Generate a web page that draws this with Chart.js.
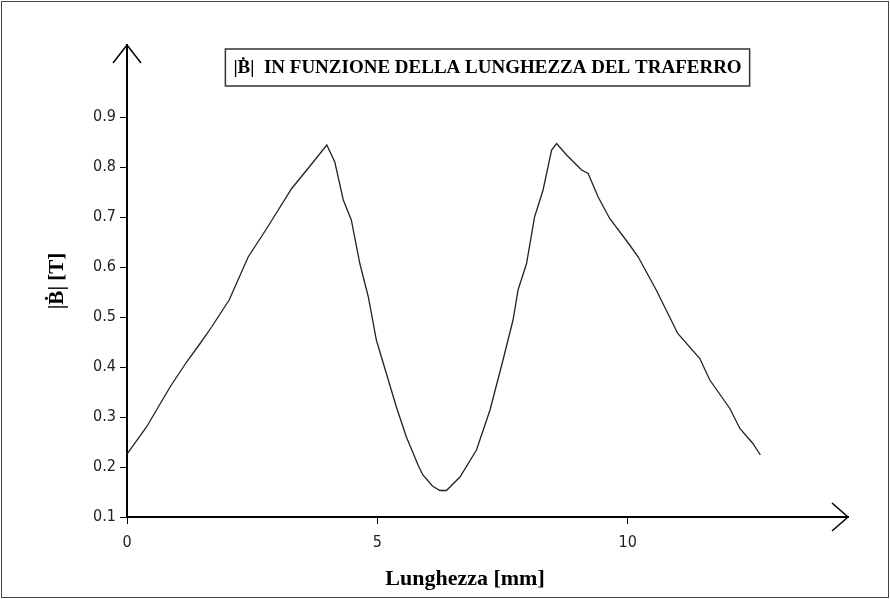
<!DOCTYPE html>
<html>
<head>
<meta charset="utf-8">
<script src="https://cdn.jsdelivr.net/npm/chart.js@4.4.1/dist/chart.umd.min.js"></script>
<style>
  body { margin: 0; background: #fff; }
  canvas { display: block; }
</style>
</head>
<body>
<canvas id="fluxChart" width="890" height="599"></canvas>
<script>
// valori
const lunghezza = [0, 0.39, 0.86, 1.19, 1.46, 1.69, 2.04, 2.42, 2.79, 3.29, 3.72, 3.99,
  4.15, 4.32, 4.48, 4.65, 4.82, 4.98, 5.18, 5.38, 5.58, 5.83, 5.91, 6.1, 6.25, 6.38,
  6.65, 6.98, 7.25, 7.51, 7.71, 7.81, 7.98, 8.14, 8.31, 8.48, 8.58, 8.78, 9.08, 9.21,
  9.41, 9.64, 10.04, 10.21, 10.57, 11.0, 11.44, 11.64, 12.04, 12.24, 12.5, 12.65];
const induzione = [0.226, 0.28, 0.36, 0.41, 0.447, 0.48, 0.534, 0.62, 0.677, 0.757, 0.81, 0.844,
  0.81, 0.734, 0.694, 0.607, 0.54, 0.454, 0.387, 0.32, 0.26, 0.2, 0.184, 0.162, 0.153, 0.153,
  0.18, 0.234, 0.314, 0.414, 0.494, 0.554, 0.607, 0.7, 0.754, 0.834, 0.847, 0.824, 0.794, 0.787,
  0.74, 0.697, 0.644, 0.62, 0.554, 0.467, 0.417, 0.374, 0.317, 0.277, 0.247, 0.224];
const xTicks = [0, 5, 10];
const yTicks = [0.1, 0.2, 0.3, 0.4, 0.5, 0.6, 0.7, 0.8, 0.9];

const titolo = "|Ḃ|  IN FUNZIONE DELLA LUNGHEZZA DEL TRAFERRO";
const titoloX = "Lunghezza [mm]";
const titoloY = "|Ḃ| [T]";

const tickFont = { family: '"Liberation Sans Narrow", "DejaVu Sans Condensed", sans-serif', size: 16 };

// frecce degli assi, riquadro del titolo, cornice esterna
const decorazioni = {
  id: "decorazioni",
  afterDraw(chart) {
    const ctx = chart.ctx;
    const xs = chart.scales.x;
    const ys = chart.scales.y;
    const x0 = xs.getPixelForValue(0);
    const y0 = ys.getPixelForValue(0.1);
    const xEnd = xs.right;
    const yEnd = ys.top;

    ctx.save();
    ctx.strokeStyle = "#000";
    ctx.lineWidth = 1.5;
    ctx.beginPath();
    ctx.moveTo(x0 - 14, yEnd + 18);
    ctx.lineTo(x0, yEnd);
    ctx.lineTo(x0 + 14, yEnd + 18);
    ctx.moveTo(xEnd - 16, y0 - 14);
    ctx.lineTo(xEnd, y0);
    ctx.lineTo(xEnd - 16, y0 + 14);
    ctx.stroke();

    // cornice
    ctx.strokeStyle = "#444";
    ctx.lineWidth = 1;
    ctx.strokeRect(1.5, 1.5, chart.width - 3, chart.height - 3);

    // titolo nel riquadro
    ctx.font = 'bold 19px "Liberation Serif", serif';
    const w = ctx.measureText(titolo).width;
    const cx = (xs.left + xs.right) / 2;
    ctx.strokeStyle = "#333";
    ctx.lineWidth = 1.5;
    ctx.strokeRect(cx - w / 2 - 8, 49, w + 16, 37);
    ctx.fillStyle = "#000";
    ctx.textAlign = "center";
    ctx.textBaseline = "middle";
    ctx.fillText(titolo, cx, 68);

    // titolo asse x
    ctx.font = 'bold 22px "Liberation Serif", serif';
    ctx.textBaseline = "alphabetic";
    ctx.fillText(titoloX, 465, 585);
    ctx.restore();
  }
};

new Chart(document.getElementById("fluxChart"), {
  type: "scatter",
  data: {
    datasets: [{
      data: lunghezza.map((x, i) => ({ x: x, y: induzione[i] })),
      showLine: true,
      borderColor: "#222",
      borderWidth: 1.3,
      pointRadius: 0,
      tension: 0
    }]
  },
  options: {
    responsive: false,
    animation: false,
    layout: { padding: { top: 45, right: 42, left: 0, bottom: 0 } },
    plugins: { legend: { display: false }, tooltip: { enabled: false } },
    scales: {
      x: {
        type: "linear",
        min: 0,
        max: 14.4,
        afterBuildTicks: s => { s.ticks = xTicks.map(v => ({ value: v })); },
        afterFit: s => { s.height = 82; },
        grid: { drawOnChartArea: false, drawTicks: true, tickLength: 7, color: "#000" },
        border: { color: "#000", width: 2 },
        ticks: { color: "#222", font: tickFont, padding: 9, maxRotation: 0 }
      },
      y: {
        type: "linear",
        min: 0.1,
        max: 1.044,
        afterBuildTicks: s => { s.ticks = yTicks.map(v => ({ value: v })); },
        afterFit: s => { s.width = 127; },
        grid: { drawOnChartArea: false, drawTicks: true, tickLength: 7, color: "#000" },
        border: { color: "#000", width: 2 },
        ticks: { color: "#222", font: tickFont, padding: 4, callback: v => v.toFixed(1) },
        title: {
          display: true,
          text: titoloY,
          color: "#000",
          font: { family: '"Liberation Serif", serif', size: 21, weight: "bold" },
          padding: { top: 45, bottom: 0 }
        }
      }
    }
  },
  plugins: [decorazioni]
});
</script>
</body>
</html>
